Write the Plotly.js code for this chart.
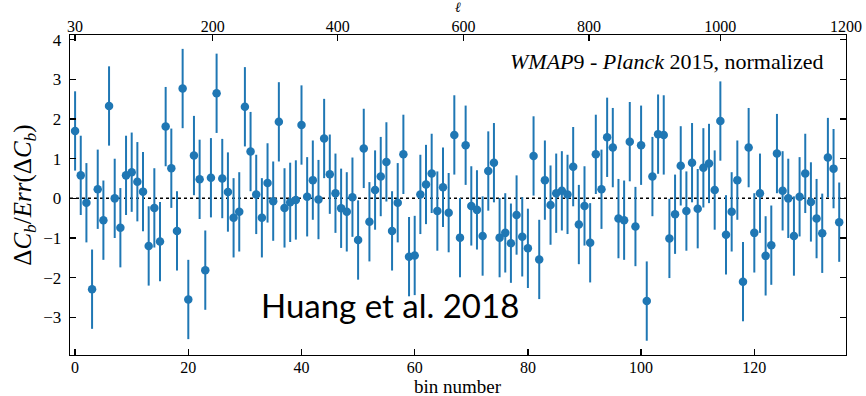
<!DOCTYPE html>
<html>
<head>
<meta charset="utf-8">
<script src="https://cdn.plot.ly/plotly-3.0.1.min.js"></script>
<style>html,body{margin:0;padding:0;background:#fff;}#chart{width:866px;height:396px;}</style>
</head>
<body>
<div id="chart"></div>
<script>
const binNumber = [0,1,2,3,4,5,6,7,8,9,10,11,12,13,14,15,16,17,18,19,20,21,22,23,24,25,26,27,28,29,30,31,32,33,34,35,36,37,38,39,40,41,42,43,44,45,46,47,48,49,50,51,52,53,54,55,56,57,58,59,60,61,62,63,64,65,66,67,68,69,70,71,72,73,74,75,76,77,78,79,80,81,82,83,84,85,86,87,88,89,90,91,92,93,94,95,96,97,98,99,100,101,102,103,104,105,106,107,108,109,110,111,112,113,114,115,116,117,118,119,120,121,122,123,124,125,126,127,128,129,130,131,132,133,134,135];
const normDiff = [1.70,0.58,-0.11,-2.29,0.23,-0.55,2.33,0.00,-0.74,0.58,
  0.66,0.42,0.17,-1.20,-0.24,-1.09,1.81,0.76,-0.82,2.77,
  -2.55,1.08,0.48,-1.81,0.52,2.65,0.50,0.16,-0.49,-0.34,
  2.31,1.18,0.10,-0.49,0.39,-0.07,1.93,-0.24,-0.10,-0.04,
  1.85,0.04,0.46,-0.03,1.51,0.61,0.13,-0.25,-0.34,0.03,
  -1.05,1.26,-0.59,0.21,0.55,0.92,-0.82,-0.11,1.11,-1.47,
  -1.44,0.10,0.35,0.63,-0.32,0.28,-0.36,1.60,-0.99,1.34,
  -0.19,-0.29,-0.95,0.69,0.90,-0.99,-0.87,-1.13,-0.42,-0.97,
  -1.26,1.07,-1.54,0.46,-0.17,0.13,0.19,0.10,0.80,-0.66,
  -0.19,-1.12,1.11,0.23,1.54,1.28,-0.51,-0.55,1.43,-0.71,
  1.34,-2.59,0.55,1.62,1.60,-1.01,-0.40,0.82,-0.32,0.90,
  -0.26,0.77,0.88,0.21,1.95,-0.92,-0.34,0.46,-2.10,1.28,
  -0.87,0.13,-1.45,-1.18,1.13,0.19,0.00,-0.95,0.04,0.63,
  -0.09,-0.51,-0.88,1.03,0.75,-0.60];
const errorSize = 1;  // values are normalized by their error
const bottomTickVals = [0,20,40,60,80,100,120];
const topTickLabels = ['30','200','400','600','800','1000','1200'];
const topTickBins = [0,24.3,46.4,68.6,90.8,114.0,136.2];
const yTickVals = [-3,-2,-1,0,1,2,3,4];

const serif = 'Liberation Serif, Times New Roman, serif';
const blue = '#1f77b4';
const xr = [-0.9, 136.2];

const traces = [
  {
    x: binNumber, y: normDiff, type: 'scatter', mode: 'markers',
    marker: {color: blue, size: 8.5},
    error_y: {type: 'constant', value: errorSize, color: blue, thickness: 2, width: 0},
    showlegend: false, hoverinfo: 'x+y'
  },
  {
    x: [topTickBins[0]], y: [0], xaxis: 'x2', type: 'scatter', mode: 'markers',
    marker: {opacity: 0}, showlegend: false, hoverinfo: 'skip'
  }
];

const layout = {
  width: 866, height: 396,
  margin: {l: 70, r: 20, t: 35, b: 41},
  paper_bgcolor: '#fff', plot_bgcolor: '#fff',
  font: {family: serif, color: '#000', size: 17},
  xaxis: {
    range: xr, tickvals: bottomTickVals, ticks: 'inside', ticklen: 6, tickcolor: '#000', tickwidth: 1.2,
    showline: true, linecolor: '#000', linewidth: 1.3, mirror: true,
    showgrid: false, zeroline: false, ticklabelstandoff: -3,
    tickfont: {family: serif, size: 16, color: '#000'}
  },
  xaxis2: {
    overlaying: 'x', side: 'top', range: xr, tickvals: topTickBins, ticktext: topTickLabels,
    ticks: 'inside', ticklen: 6, tickcolor: '#000', tickwidth: 1.2,
    showgrid: false, zeroline: false, showline: false, ticklabelstandoff: -1,
    tickfont: {family: serif, size: 16, color: '#000'}
  },
  yaxis: {
    range: [-3.95, 4.12], tickvals: yTickVals, ticks: 'inside', ticklen: 6, tickcolor: '#000', tickwidth: 1.2,
    showline: true, linecolor: '#000', linewidth: 1.3, mirror: 'ticks',
    showgrid: false, zeroline: false, ticklabelstandoff: 4,
    tickfont: {family: serif, size: 17, color: '#000'},
    title: {text: 'Δ<i>C</i><sub><i>b</i></sub>/<i>Err</i>(Δ<i>C</i><sub><i>b</i></sub>)', font: {family: serif, size: 25, color: '#000'}, standoff: 4}
  },
  shapes: [
    {type: 'line', xref: 'paper', x0: 0, x1: 1, yref: 'y', y0: 0, y1: 0,
     line: {color: '#000', width: 1.5, dash: 'dot'}, layer: 'below'}
  ],
  annotations: [
    {xref: 'paper', yref: 'paper', x: 0.5, y: 1, yshift: 28, xanchor: 'center', yanchor: 'middle',
     text: '<i>ℓ</i>', showarrow: false,
     font: {family: serif, size: 14, color: '#000'}},
    {xref: 'paper', yref: 'paper', x: 0.5, y: 0, yshift: -31, xanchor: 'center', yanchor: 'middle',
     text: 'bin number', showarrow: false,
     font: {family: serif, size: 19, color: '#000'}},
    {xref: 'paper', yref: 'paper', x: 0.973, y: 0.916, xanchor: 'right', yanchor: 'middle',
     text: '<i>WMAP</i>9 - <i>Planck</i> 2015, normalized', showarrow: false,
     font: {family: serif, size: 22, color: '#000'}},
    {xref: 'paper', yref: 'paper', x: 0.412, y: 0.156, xanchor: 'center', yanchor: 'middle',
     text: 'Huang et al. 2018', showarrow: false,
     font: {family: 'Lato, Carlito, Calibri, sans-serif', size: 33, color: '#000'}}
  ]
};

Plotly.newPlot('chart', traces, layout, {displayModeBar: false, staticPlot: true});
</script>
</body>
</html>
